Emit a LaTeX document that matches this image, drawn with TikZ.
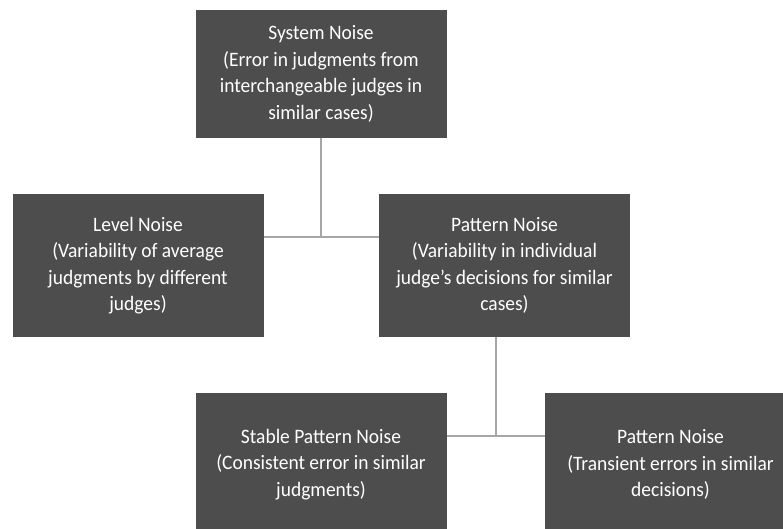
\documentclass[tikz,border=0pt]{standalone}
\usepackage{fontspec}
\setmainfont{Carlito}[FakeStretch=0.95]
\usepackage{tikz}
\definecolor{boxgray}{HTML}{4D4D4D}
\definecolor{linegray}{HTML}{A6A6A6}

\begin{document}
\begin{tikzpicture}[
  x=1pt, y=-1pt,
  noisebox/.style={
    rectangle, fill=boxgray, text=white,
    minimum width=251pt, minimum height=143pt,
    align=center, inner sep=0pt,
    font=\fontsize{20.5}{26.5}\selectfont
  },
  link/.style={draw=linegray, line width=1.5pt}
]
  \useasboundingbox (0,0) rectangle (783,529);
  \clip (0,0) rectangle (783,529);
  \node[noisebox, minimum height=128pt] (sys) at (321,74)
    {System Noise\\(Error in judgments from\\interchangeable judges in\\similar cases)};
  \node[noisebox] (lvl) at (138,265.5)
    {Level Noise\\(Variability of average\\judgments by different\\judges)};
  \node[noisebox] (pat) at (504.5,265.5)
    {Pattern Noise\\(Variability in individual\\judge’s decisions for similar\\cases)};
  \node[noisebox] (stb) at (321,464.5)
    {Stable Pattern Noise\\(Consistent error in similar\\judgments)};
  \node[noisebox] (trn) at (670.5,464.5)
    {Pattern Noise\\(Transient errors in similar\\decisions)};
  \coordinate (j1) at (321,237);
  \coordinate (j2) at (496,436);
  \draw[link] (sys.south) -- (j1);
  \draw[link] (lvl.east |- j1) -- (pat.west |- j1);
  \draw[link] (j2 |- pat.south) -- (j2);
  \draw[link] (stb.east |- j2) -- (trn.west |- j2);
\end{tikzpicture}
\end{document}
